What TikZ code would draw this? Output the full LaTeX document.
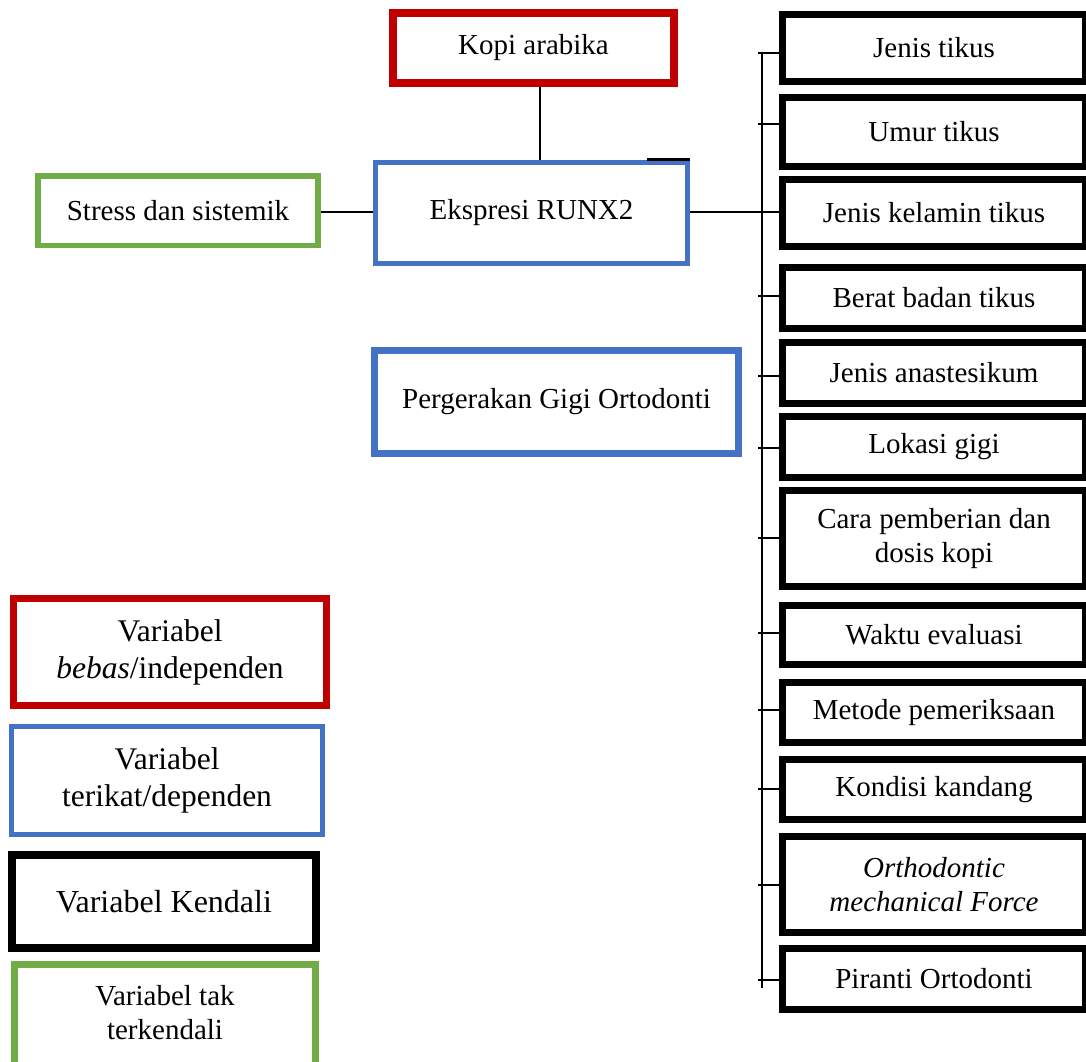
\documentclass[tikz,border=0pt]{standalone}
\usepackage{fontspec}
\setmainfont{Liberation Serif}
\definecolor{cred}{HTML}{C00000}
\definecolor{cblue}{HTML}{4472C4}
\definecolor{cgreen}{HTML}{70AD47}
\tikzset{
  box/.style={draw, rectangle, align=center, inner sep=0pt, font=\fontsize{29}{34}\selectfont},
  redbox/.style={box, draw=cred, line width=8pt},
  bluebox/.style={box, draw=cblue, line width=5pt},
  greenbox/.style={box, draw=cgreen, line width=5.5pt},
  ctrlbox/.style={box, draw=black, line width=7pt, minimum width=303pt},
  conn/.style={draw=black, line width=2.8pt},
}
\begin{document}
\begin{tikzpicture}[x=1pt,y=-1pt]
\useasboundingbox (0,0) rectangle (1086,1061);
\clip (0,0) rectangle (1086,1061);
\fill[white] (0,0) rectangle (1086,1061);

% main nodes
\node[redbox, minimum width=281pt, minimum height=70pt] (kopi) at (533.5,48) {Kopi arabika};
\node[bluebox, minimum width=312pt, minimum height=101pt] (runx) at (531.5,213) {Ekspresi RUNX2};
\node[greenbox, minimum width=280pt, minimum height=69.5pt] (stress) at (178,210.5) {Stress dan sistemik};
\node[bluebox, line width=7pt, minimum width=364pt, minimum height=103pt] (gerak) at (556.5,402) {\raisebox{-4pt}{Pergerakan Gigi Ortodonti}};

% control variables
\node[ctrlbox, minimum height=67pt] (r1) at (934,48) {\raisebox{-3pt}{Jenis tikus}};
\node[ctrlbox, minimum height=69pt] (r2) at (934,132) {\raisebox{-2pt}{Umur tikus}};
\node[ctrlbox, minimum height=67pt] (r3) at (934,213) {\raisebox{-2pt}{Jenis kelamin tikus}};
\node[ctrlbox, minimum height=61pt] (r4) at (934,298) {Berat badan tikus};
\node[ctrlbox, minimum height=61pt] (r5) at (934,373) {Jenis anastesikum};
\node[ctrlbox, minimum height=61pt] (r6) at (934,447) {Lokasi gigi};
\node[ctrlbox, minimum height=96pt] (r7) at (934,538.5) {Cara pemberian dan\\dosis kopi};
\node[ctrlbox, minimum height=59pt] (r8) at (934,635) {Waktu evaluasi};
\node[ctrlbox, minimum height=60pt] (r9) at (934,712.5) {Metode pemeriksaan};
\node[ctrlbox, minimum height=60pt] (r10) at (934,789.5) {Kondisi kandang};
\node[ctrlbox, minimum height=96pt] (r11) at (934,884.5) {\itshape Orthodontic\\\itshape mechanical Force};
\node[ctrlbox, minimum height=61pt] (r12) at (934,979) {Piranti Ortodonti};

% legend
\node[redbox, line width=7pt, minimum width=313pt, minimum height=107pt, font=\fontsize{31.5}{37}\selectfont] (l1) at (170,652) {Variabel\\\textit{bebas}/independen};
\node[bluebox, minimum width=311pt, minimum height=108pt, font=\fontsize{31.5}{37}\selectfont] (l2) at (167,780.5) {Variabel\\terikat/dependen};
\node[box, line width=8pt, minimum width=304pt, minimum height=93pt, font=\fontsize{32}{37}\selectfont] (l3) at (164,901.5) {Variabel Kendali};
\node[greenbox, line width=7pt, minimum width=301pt, minimum height=103pt] (l4) at (165,1016) {\raisebox{8pt}{\begin{tabular}{@{}c@{}}Variabel tak\\terkendali\end{tabular}}};

% connectors
\coordinate (vx) at (540,0);
\coordinate (bustop) at (762,53);
\coordinate (busbot) at (762,988);
\draw[conn] (kopi.south -| vx) -- (runx.north -| vx);
\draw[conn] (runx.west |- 0,212) -- (stress.east |- 0,212);
\draw[conn] (runx.east |- 0,212) -- (bustop |- 0,212);
\draw[line width=3pt] ([xshift=-43pt,yshift=0.5pt]runx.north east) -- ([yshift=0.5pt]runx.north east);
\draw[conn] (bustop) -- (busbot);
\foreach \i/\ty in {1/53,2/124,3/212,4/296,5/376,6/448,7/538,8/633,9/710,10/789,11/885,12/980}{
  \draw[conn] (r\i.west |- 0,\ty) -- ([xshift=-4pt]bustop |- 0,\ty);
}
\end{tikzpicture}
\end{document}
